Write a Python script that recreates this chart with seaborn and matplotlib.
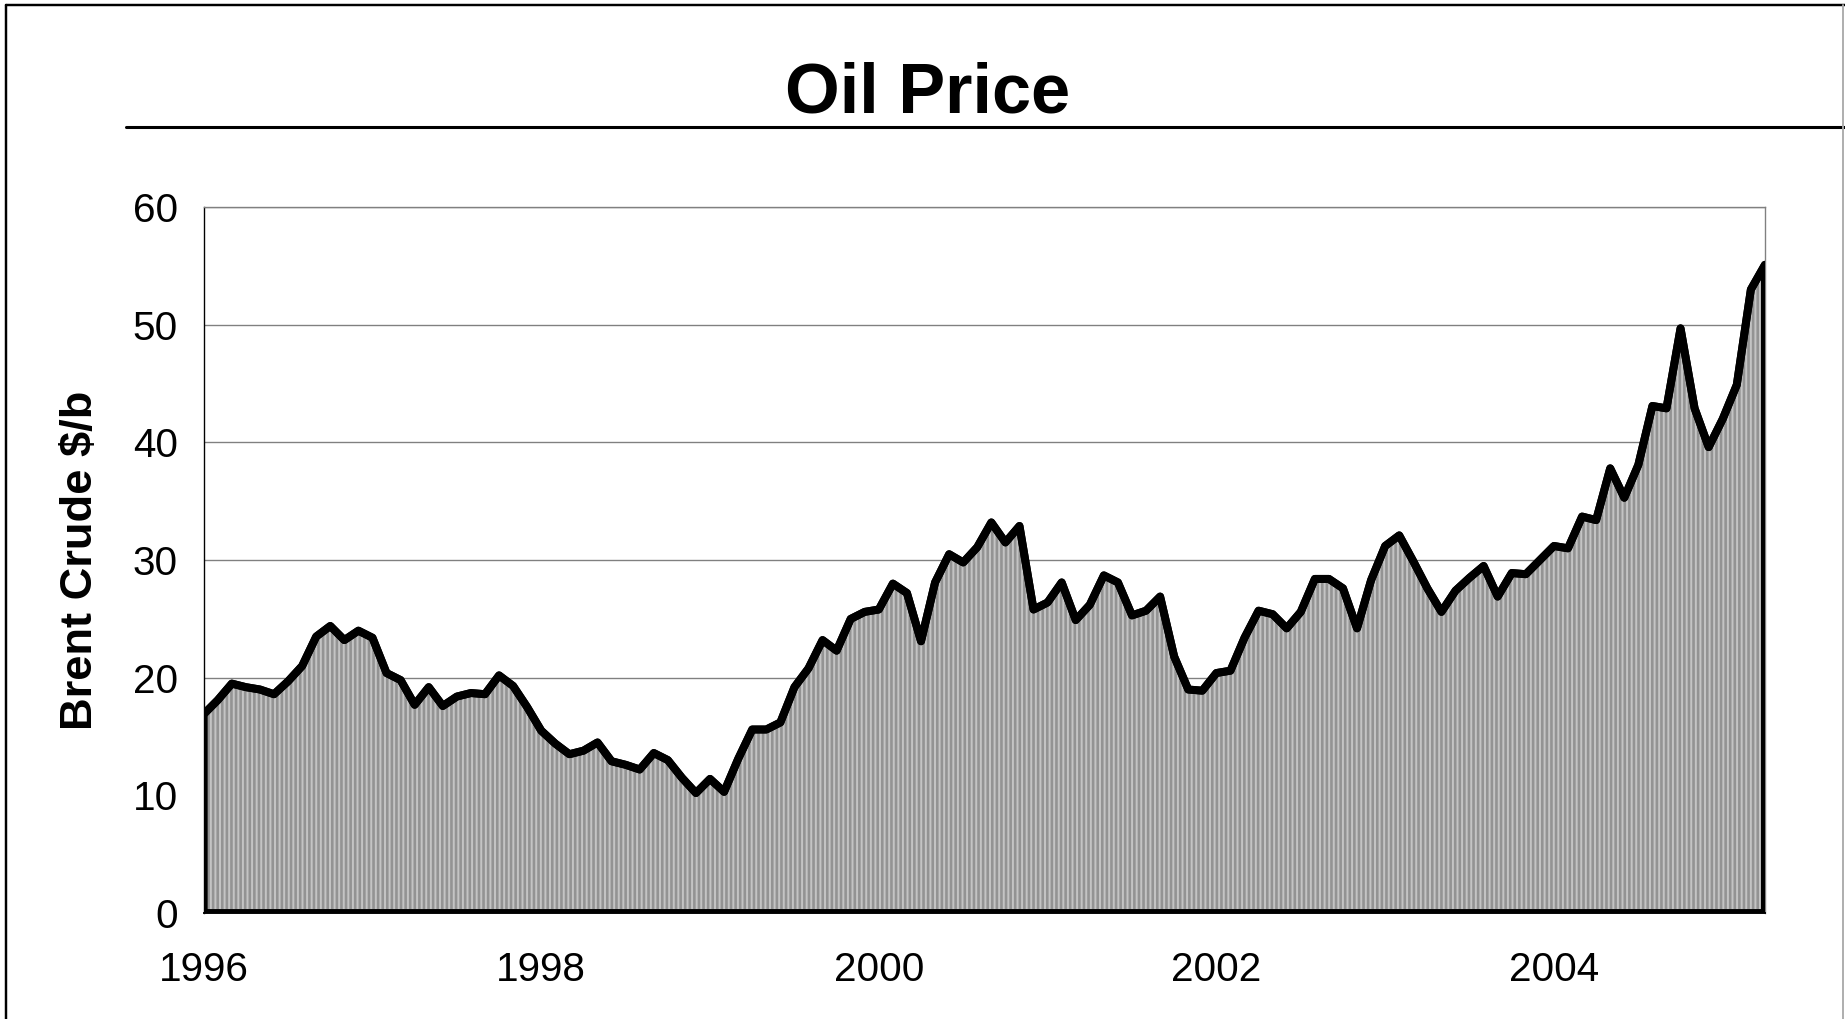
import numpy as np
import pandas as pd
import matplotlib.pyplot as plt
from matplotlib.lines import Line2D
import seaborn as sns

# Monthly Brent crude price ($/b), Jan 1996 .. Apr 2005
p1996 = [16.9, 18.1, 19.5, 19.2, 19.0, 18.6, 19.7, 21.0, 23.5, 24.4, 23.2, 24.0]
p1997 = [23.4, 20.4, 19.8, 17.7, 19.2, 17.6, 18.4, 18.7, 18.6, 20.2, 19.3, 17.5]
p1998 = [15.5, 14.4, 13.5, 13.8, 14.5, 12.9, 12.6, 12.2, 13.6, 13.0, 11.5, 10.2]
p1999 = [11.4, 10.3, 13.1, 15.6, 15.6, 16.2, 19.2, 20.8, 23.2, 22.3, 25.0, 25.6]
p2000 = [25.8, 28.0, 27.2, 23.1, 28.1, 30.5, 29.8, 31.1, 33.2, 31.5, 32.9, 25.8]
p2001 = [26.4, 28.1, 24.9, 26.2, 28.7, 28.1, 25.3, 25.7, 26.9, 21.8, 19.0, 18.9]
p2002 = [20.4, 20.6, 23.4, 25.7, 25.4, 24.2, 25.6, 28.4, 28.4, 27.6, 24.2, 28.3]
p2003 = [31.2, 32.1, 29.9, 27.6, 25.6, 27.4, 28.5, 29.5, 26.9, 28.9, 28.8, 30.0]
p2004 = [31.2, 31.0, 33.7, 33.4, 37.8, 35.3, 38.1, 43.1, 42.9, 49.7, 42.9, 39.6]
p2005 = [42.0, 44.9, 53.0, 55.1]

start_year = 1996
year_ticks = list(range(1996, 2006))
year_labels = [str(y) if y % 2 == 0 else '' for y in year_ticks]
y_ticks = [0, 10, 20, 30, 40, 50, 60]

prices = p1996 + p1997 + p1998 + p1999 + p2000 + p2001 + p2002 + p2003 + p2004 + p2005
df = pd.DataFrame({'date': start_year + np.arange(len(prices)) / 12.0, 'price': prices})

sns.set_theme(style="white")
plt.rcParams['font.family'] = ['Liberation Sans', 'DejaVu Sans']
plt.rcParams.update({'hatch.linewidth': 1.7, 'text.color': 'black',
                     'axes.labelcolor': 'black', 'xtick.color': 'black',
                     'ytick.color': 'black'})

DPI = 110
fig = plt.figure(figsize=(1845 / DPI, 1019 / DPI), dpi=DPI)
ax = fig.add_axes([0.1104, 0.104, 0.8462, 0.6927])

# striped grey area + thick black outline
ax.fill_between(df['date'], 0, df['price'], facecolor='#c4c4c4', edgecolor='#939393',
                hatch='||||', linewidth=0, zorder=2)
ax.fill_between(df['date'], 0, df['price'], facecolor='none', edgecolor='black',
                linewidth=5.2, zorder=3)
sns.lineplot(data=df, x='date', y='price', color='black', linewidth=5.2, ax=ax, zorder=4)

ax.set_xlim(df['date'].iloc[0], df['date'].iloc[-1])
ax.set_ylim(0, 60)
ax.set_xticks(year_ticks)
ax.set_xticklabels(year_labels)
ax.set_yticks(y_ticks)
ax.yaxis.grid(True, color='#808080', linewidth=0.9)
ax.set_axisbelow(True)

ax.tick_params(axis='both', which='major', labelsize=26.5, colors='black',
               direction='out', length=7, width=0.9)
ax.tick_params(axis='x', pad=18)
ax.tick_params(axis='y', pad=10)

for side in ['top', 'right']:
    ax.spines[side].set_color('#808080')
    ax.spines[side].set_linewidth(0.9)
ax.spines['left'].set_color('black')
ax.spines['left'].set_linewidth(0.9)
ax.spines['bottom'].set_color('black')

ax.set_xlabel('')
ax.set_ylabel('Brent Crude $/b', fontsize=29.6, fontweight='bold', va='center')
ax.yaxis.set_label_coords(-0.0792, 0.5)

# title and rule underneath
fig.text(0.503, 0.890, 'Oil Price', fontsize=46, fontweight='bold',
         ha='center', va='baseline')
fig.add_artist(Line2D([0.0683, 1.0], [0.8754, 0.8754], transform=fig.transFigure,
                      color='black', linewidth=2.0))

# outer frame (left, top black; right grey)
fig.add_artist(Line2D([0.0035, 0.0035], [0.0, 0.995], transform=fig.transFigure,
                      color='black', linewidth=1.6))
fig.add_artist(Line2D([0.0035, 1.0], [0.995, 0.995], transform=fig.transFigure,
                      color='black', linewidth=1.6))
fig.add_artist(Line2D([0.9988, 0.9988], [0.0, 0.995], transform=fig.transFigure,
                      color='#aaaaaa', linewidth=1.2))

fig.savefig('out.png', dpi=DPI)
